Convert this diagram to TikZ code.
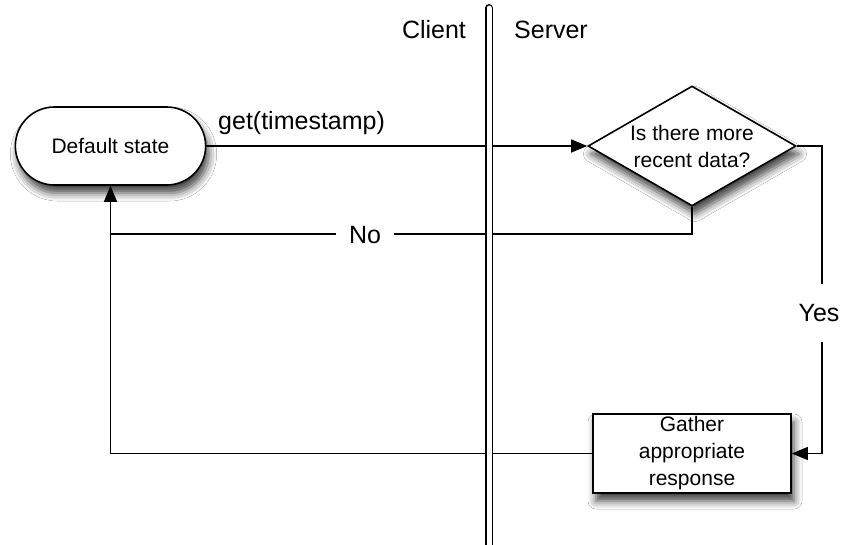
\documentclass[tikz,border=0pt]{standalone}
\usepackage{fontspec}
\setmainfont{Liberation Sans}
\usetikzlibrary{shapes.geometric,shapes.misc,arrows.meta,shadows.blur}
\begin{document}
\begin{tikzpicture}[x=1pt,y=-1pt,
  box/.style={draw=black, line width=1.6pt, fill=white,
    blur shadow={shadow xshift=3pt, shadow yshift=-8pt, shadow blur radius=8pt, shadow opacity=75}},
  ntext/.style={font=\fontsize{21}{27}\selectfont, align=center},
  lbl/.style={font=\fontsize{25}{30}\selectfont, inner sep=0pt},
  conn/.style={line width=1.3pt},
  arr/.style={conn, -{Triangle[length=16pt,width=13pt]}},
]
\useasboundingbox[fill=white] (0,0) rectangle (842,544);

\node[box, rounded rectangle, minimum width=197pt, minimum height=78pt, ntext] (def) at (110.5,146) {Default state};
\node[box, diamond, aspect=1.73, inner sep=0pt, minimum width=208pt, minimum height=120pt, ntext] (dec) at (692,146) {Is there more\\recent data?};
\node[box, rectangle, minimum width=198pt, minimum height=79pt, inner sep=0pt, ntext] (gat) at (692,453.5) {Gather\\appropriate\\response};

\node[lbl, anchor=base west] (get) at (218,129) {get(timestamp)};
\draw[arr] (def.east) -- (dec.west);

\coordinate (ya) at (822,146);
\coordinate (yb) at (822,453.5);
\draw[arr] (dec.east) -- (ya) -- (yb) -- (gat.east);
\node[lbl, fill=white, inner ysep=20pt] (yes) at (819,313) {Yes};

\coordinate (na) at (692,234);
\coordinate (nb) at (110.5,234);
\draw[conn] (dec.south) -- (na) -- (nb);
\node[lbl, fill=white, inner xsep=13pt] (no) at (365,235) {No};

\coordinate (ra) at (110.5,453.5);
\draw[arr] (gat.west) -- (ra) -- (def.south);

\coordinate (vt) at (489,8);
\coordinate (vb) at (489,550);
\draw[line width=1.5pt, double=white, double distance=5pt, line cap=round] (vt) -- (vb);

\node[lbl, anchor=base] (cl) at (434,38) {Client};
\node[lbl, anchor=base] (sv) at (551,38) {Server};
\end{tikzpicture}
\end{document}
